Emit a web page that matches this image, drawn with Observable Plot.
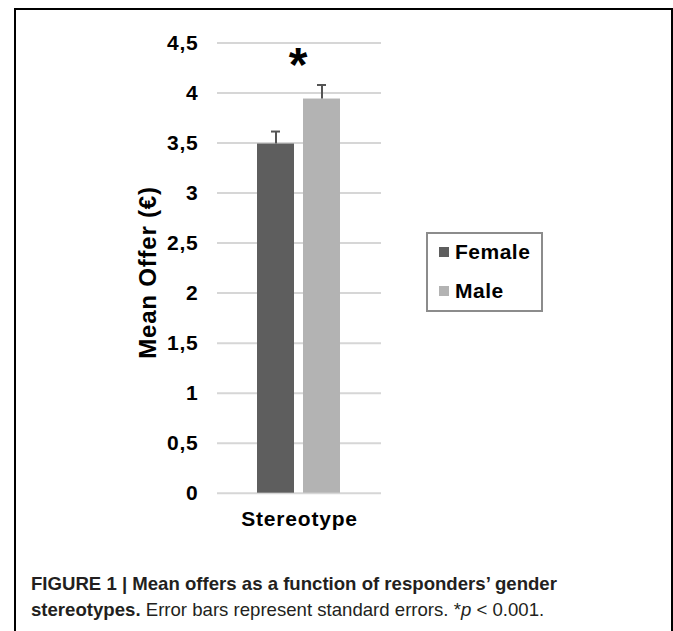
<!DOCTYPE html>
<html><head><meta charset="utf-8">
<script src="https://cdn.jsdelivr.net/npm/d3@7"></script>
<script src="https://cdn.jsdelivr.net/npm/@observablehq/plot@0.6"></script>
<style>
body{margin:0;background:#fff;font-family:"Liberation Sans",Arial,sans-serif;}
#page{position:relative;width:673px;height:631px;overflow:hidden;background:#fff;}
#frame{position:absolute;left:14px;top:8px;width:659px;height:700px;border:2px solid #000;box-sizing:border-box;}
#chart{position:absolute;left:0;top:0;}
#legend{position:absolute;left:426px;top:232px;width:117px;height:80px;border:2px solid #8c8c8c;box-sizing:border-box;}
#legend .lgwrap{position:absolute;left:11px;top:-2px;}
#legend .lg-swatch{height:39px;padding:0 !important;margin:0 !important;display:flex;align-items:center;}
#legend .lg-swatch svg{margin-right:6px !important;}
#caption{position:absolute;left:31px;top:571px;font-size:18.6px;color:#231f20;line-height:26px;white-space:nowrap;}
#caption b{font-weight:bold;}
</style></head><body>
<div id="page"><div id="frame"></div><div id="chart"></div><div id="legend"><div class="lgwrap"></div></div><div id="caption"></div></div>
<script>
// ---- data ----
const groups = ["Female", "Male"];
const category = ["Stereotype"];
const means = [3.49, 3.94];
const errors = [0.125, 0.14];
const colors = ["#5e5e5e", "#b3b3b3"];
const yTicks = [0, 0.5, 1, 1.5, 2, 2.5, 3, 3.5, 4, 4.5];
const yLabel = ["Mean Offer (€)"];
const sigLabels = ["*"];
const sigY = [4.27];
const captionBold = "FIGURE 1 | Mean offers as a function of responders’ gender stereotypes.";
const captionRest = " Error bars represent standard errors. *";

const data = groups.map((g, i) => ({cat: category[0], group: g, mean: means[i], se: errors[i], top: means[i] + errors[i]}));
const sig = sigLabels.map((t, i) => ({cat: category[0], label: t, y: sigY[i]}));

const chart = Plot.plot({
  width: 673, height: 540,
  marginLeft: 217, marginRight: 292, marginTop: 42.5, marginBottom: 47.3,
  style: {fontFamily: "'Liberation Sans', Arial, sans-serif", fontWeight: "bold", fontSize: "21px", color: "#000", background: "transparent", overflow: "visible", letterSpacing: "0.8px"},
  fx: {domain: category, padding: 0, axis: "bottom", label: null, tickSize: 0, tickPadding: 17.5},
  x: {domain: groups, paddingInner: 0.1935, paddingOuter: 0.86, axis: null},
  y: {domain: [0, 4.5], ticks: yTicks, tickFormat: d => String(d).replace(".", ","), tickSize: 0, tickPadding: 19, label: null},
  color: {domain: groups, range: colors},
  marks: [
    Plot.gridY(yTicks, {stroke: "#d6d6d6", strokeOpacity: 1, strokeWidth: 2}),
    Plot.barY(data, {fx: "cat", x: "group", y: "mean", fill: "group"}),
    Plot.ruleX(data, {fx: "cat", x: "group", y1: "mean", y2: "top", stroke: "#555", strokeWidth: 2}),
    Plot.tickY(data, {fx: "cat", x: "group", y: "top", stroke: "#555", strokeWidth: 2, insetLeft: 14, insetRight: 14}),
    Plot.text(sig, {fx: "cat", y: "y", text: "label", fontSize: 48, fontWeight: "bold", fill: "#000", dx: -1}),
    Plot.text(yLabel, {text: d => d, frameAnchor: "left", textAnchor: "middle", rotate: -90, lineAnchor: "top", dx: -78.7, dy: 4.4, fontSize: 24, fontWeight: "bold", fill: "#000"})
  ]
});
document.getElementById("chart").appendChild(chart);

const leg = Plot.legend({
  color: {domain: groups, range: colors},
  legend: "swatches", columns: 1, swatchSize: 10, className: "lg",
  style: {fontFamily: "'Liberation Sans', Arial, sans-serif", fontWeight: "bold", fontSize: "21px", color: "#000", letterSpacing: "0.5px", margin: "0"}
});
document.querySelector("#legend .lgwrap").appendChild(leg);

const cap = document.getElementById("caption");
cap.innerHTML = "<b>" + captionBold.replace(" stereotypes.", "<br>stereotypes.") + "</b>" + captionRest + "<i>p</i> &lt; 0.001.";
</script>
</body></html>
